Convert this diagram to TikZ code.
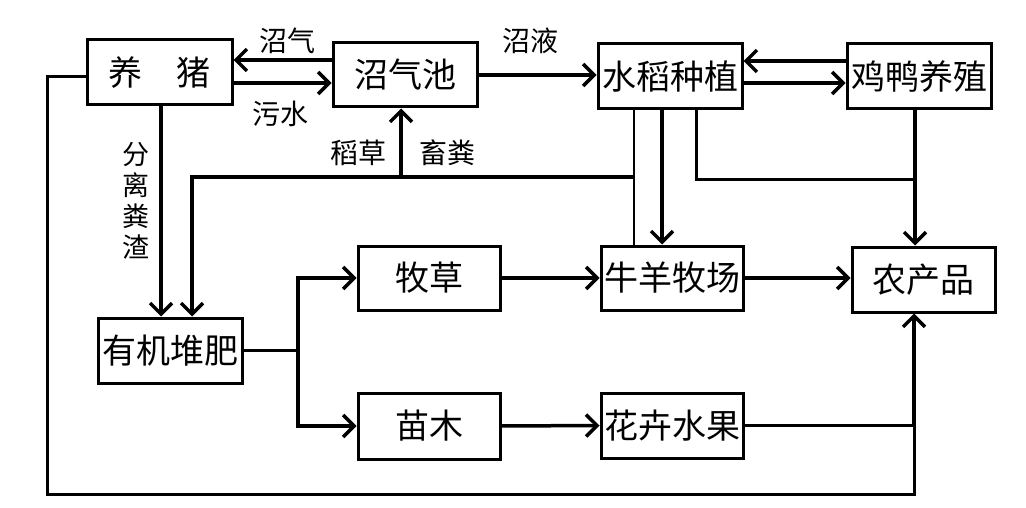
\documentclass[tikz,border=0pt]{standalone}
\usepackage{fontspec}
\newfontfamily\cjk{Noto Sans CJK SC}
\usetikzlibrary{arrows.meta}
\begin{document}
\begin{tikzpicture}[x=1pt,y=-1pt,
  box/.style={draw,line width=3pt,inner sep=0pt,font=\cjk\fontsize{34}{34}\selectfont},
  lbl/.style={inner sep=0pt,font=\cjk\fontsize{28}{28}\selectfont},
  conn/.style={line width=3pt},
  arr/.style={line width=3.5pt,-{Straight Barb[length=11pt,width=22pt]}}]
\fill[white] (0,0) rectangle (1026,508);
\useasboundingbox (0,0) rectangle (1026,508);
% boxes
\node[box,minimum width=145,minimum height=65] (pig) at (159.5,72.5) {养\hspace{1em}猪};
\node[box,minimum width=144,minimum height=64] (biogas) at (405,75) {沼气池};
\node[box,minimum width=144,minimum height=65] (rice) at (670,76.5) {水稻种植};
\node[box,minimum width=144,minimum height=65] (duck) at (919,76.5) {鸡鸭养殖};
\node[box,minimum width=142,minimum height=64] (grass) at (429,278) {牧草};
\node[box,minimum width=142,minimum height=64] (cattle) at (672,278) {牛羊牧场};
\node[box,minimum width=143,minimum height=65] (prod) at (923.5,279.5) {农产品};
\node[box,minimum width=142,minimum height=66] (seed) at (429,426) {苗木};
\node[box,minimum width=142,minimum height=65] (flower) at (672,425.5) {花卉水果};
\node[box,minimum width=144,minimum height=65] (compost) at (170,350.5) {有机堆肥};
% labels
\node[lbl] (lgas) at (287,41) {沼气};
\node[lbl] (lwater) at (280,114) {污水};
\node[lbl] (lslurry) at (530,41) {沼液};
\node[lbl] (lstraw) at (358,153) {稻草};
\node[lbl] (ldung) at (447,153) {畜粪};
\node[lbl,align=center,font=\cjk\fontsize{27}{31}\selectfont] (lsep) at (136,201) {分\\离\\粪\\渣};
% junction coordinates
\coordinate (j1) at (634,177);
\coordinate (j2) at (401,177);
\coordinate (j3) at (915,180);
\coordinate (j4) at (298,350.5);
\coordinate (lb) at (47,494);
\coordinate (rb) at (914,494);
% connectors
\draw[arr] ([yshift=15pt]biogas.west) -- ([yshift=12.5pt]pig.east);
\draw[arr] ([yshift=-10.5pt]pig.east) -- ([yshift=-8pt]biogas.west);
\draw[arr] (biogas.east) -- (rice.west |- biogas.east);
\draw[arr] ([yshift=15.5pt]duck.west) -- ([yshift=15.5pt]rice.east);
\draw[arr] ([yshift=-6.5pt]rice.east) -- ([yshift=-6.5pt]duck.west);
\draw[arr] ([xshift=1.5pt]pig.south) -- ([xshift=-9pt]compost.north);
\draw[conn,line width=2.5pt] ([xshift=-36pt]rice.south) -- ([xshift=-38pt]cattle.north);
\draw[arr] (j1) -| ([xshift=22pt]compost.north);
\draw[arr] (j2) -- (biogas.south -| j2);
\draw[arr] ([xshift=-8pt]rice.south) -- ([xshift=-10pt]cattle.north);
\draw[conn] ([xshift=26pt]rice.south) |- (j3);
\draw[arr] ([xshift=-4pt]duck.south) -- ([xshift=-8.5pt]prod.north);
\draw[arr] (cattle.east) -- (prod.west |- cattle.east);
\draw[arr] (flower.east) -| ([xshift=-9.5pt]prod.south);
\draw[conn] ([yshift=-4.5pt]pig.west) -| (lb) -- (rb) -- (flower.east -| rb);
\draw[conn] (compost.east) -- (j4);
\draw[arr] (j4) |- (grass.west);
\draw[arr] (j4) |- (seed.west);
\draw[arr] (grass.east) -- (cattle.west);
\draw[arr] (seed.east) -- (flower.west);
\end{tikzpicture}
\end{document}
